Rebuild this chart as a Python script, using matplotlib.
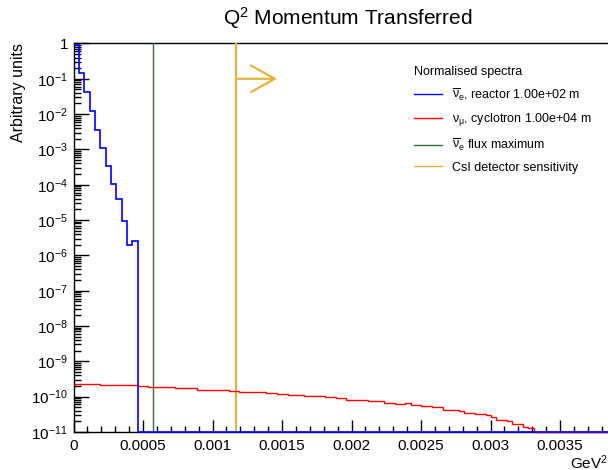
"""Q^2 spectra for reactor and cyclotron neutrinos, log-scale histogram plot."""
import matplotlib
matplotlib.use("Agg")
import matplotlib.pyplot as plt
from matplotlib.lines import Line2D
from matplotlib.ticker import FixedLocator, FuncFormatter, LogLocator, MultipleLocator
import numpy as np

plt.rcParams["font.family"] = ["Liberation Sans", "DejaVu Sans"]
# upright Greek letters in the legend, like the rest of the text
plt.rcParams["mathtext.fontset"] = "custom"
plt.rcParams["mathtext.rm"] = "Liberation Sans"
plt.rcParams["mathtext.it"] = "Liberation Sans"
plt.rcParams["mathtext.bf"] = "Liberation Sans:bold"

# histogram binning (GeV^2)
n_bins = 100
bin_width = 3.85e-5

# anti-nu_e reactor spectrum, first 12 bins (rest empty)
reactor = [0.9, 0.148, 0.0417, 0.0119, 3.66e-3, 1.11e-3, 3.34e-4, 1.06e-4,
           3.98e-5, 9.24e-6, 2.02e-6, 2.62e-6]

# nu_mu cyclotron spectrum, first 86 bins (rest empty)
cyclotron = [
    2.33e-10, 2.33e-10, 2.29e-10, 2.29e-10, 2.29e-10, 2.19e-10, 2.19e-10, 2.19e-10,
    2.19e-10, 2.09e-10, 2.09e-10, 2.09e-10, 1.96e-10, 1.96e-10, 1.83e-10, 1.92e-10,
    1.92e-10, 1.92e-10, 1.92e-10, 1.76e-10, 1.76e-10, 1.76e-10, 1.76e-10, 1.58e-10,
    1.58e-10, 1.51e-10, 1.51e-10, 1.51e-10, 1.51e-10, 1.45e-10, 1.45e-10, 1.39e-10,
    1.39e-10, 1.39e-10, 1.32e-10, 1.32e-10, 1.27e-10, 1.27e-10, 1.22e-10, 1.22e-10,
    1.12e-10, 1.12e-10, 1.12e-10, 1.07e-10, 1.07e-10, 1.02e-10, 1.02e-10, 9.55e-11,
    9.55e-11, 9.37e-11, 9.37e-11, 8.07e-11, 8.07e-11, 8.07e-11, 8.07e-11, 7.71e-11,
    7.71e-11, 7.71e-11, 6.76e-11, 6.76e-11, 6.21e-11, 6.21e-11, 6.46e-11, 5.82e-11,
    5.82e-11, 5.45e-11, 5.56e-11, 5.11e-11, 5.11e-11, 4.20e-11, 4.20e-11, 4.20e-11,
    3.93e-11, 3.52e-11, 3.52e-11, 3.30e-11, 3.30e-11, 3.03e-11, 2.71e-11, 2.13e-11,
    2.13e-11, 2.05e-11, 1.69e-11, 1.69e-11, 1.41e-11, 1.26e-11,
]

flux_max_q2 = 5.75e-4       # anti-nu_e flux maximum
csi_threshold_q2 = 1.169e-3  # CsI detector sensitivity
arrow_end_q2 = 1.464e-3
arrow_level = 0.1

y_min, y_max = 1e-11, 1.0
x_max = 0.003845

BLUE = "#0000ff"
RED = "#ff0000"
GREEN = "#356b3a"
GOLD = "#e2b43c"


def padded(values):
    out = np.zeros(n_bins)
    out[:len(values)] = values
    return out


edges = np.arange(n_bins + 1) * bin_width
# empty bins sit on the lower edge of the log axis
h_reactor = np.maximum(padded(reactor), y_min)
h_cyclotron = np.maximum(padded(cyclotron), y_min)

fig = plt.figure(figsize=(6.08, 4.70), dpi=100)
ax = fig.add_axes([0.1209, 0.0809, 0.8791, 0.8266])

# unclipped, above the spines, so the empty-bin segments on the bottom edge show
ax.stairs(h_cyclotron, edges, baseline=None, color=RED, lw=1, zorder=6, clip_on=False)
ax.stairs(h_reactor, edges, baseline=None, color=BLUE, lw=1.2, zorder=7, clip_on=False)
ax.axvline(flux_max_q2, color=GREEN, lw=1, zorder=5)
ax.axvline(csi_threshold_q2, color=GOLD, lw=1.6, zorder=5)
ax.annotate("", xy=(arrow_end_q2, arrow_level), xytext=(csi_threshold_q2, arrow_level),
            arrowprops=dict(arrowstyle="->,head_length=1.7,head_width=0.95",
                            color=GOLD, lw=1.6, shrinkA=0, shrinkB=0), zorder=5)

ax.set_yscale("log")
ax.set_xlim(0, x_max)
ax.set_ylim(y_min, y_max)

ax.xaxis.set_major_locator(MultipleLocator(0.0005))
ax.xaxis.set_minor_locator(MultipleLocator(0.0001))
ax.xaxis.set_major_formatter(FuncFormatter(lambda v, _: "0" if v == 0 else f"{v:g}"))
ax.yaxis.set_major_locator(FixedLocator([10.0 ** k for k in range(-11, 1)]))
ax.yaxis.set_minor_locator(LogLocator(base=10, subs=np.arange(2, 10), numticks=20))
ax.yaxis.set_major_formatter(FuncFormatter(
    lambda v, _: "1" if abs(v - 1) < 1e-9 else rf"$10^{{{int(round(np.log10(v)))}}}$"))

ax.tick_params(axis="both", which="both", direction="in", labelsize=11, width=1)
ax.tick_params(axis="x", which="major", length=8.6, pad=5)
ax.tick_params(axis="x", which="minor", length=4.3)
ax.tick_params(axis="y", which="major", length=10.8, pad=4)
ax.tick_params(axis="y", which="minor", length=5)
ax.spines["right"].set_visible(False)
for side in ("left", "top", "bottom"):
    ax.spines[side].set_linewidth(1)

ax.set_xlabel("GeV$^2$", loc="right", fontsize=11, labelpad=0)
ax.set_ylabel("Arbitrary units", loc="top", fontsize=11.5)
ax.yaxis.set_label_coords(-0.088, 1.0)

fig.text(0.572, 0.962, "Q$^2$ Momentum Transferred", ha="center", va="center", fontsize=15)

handles = [
    Line2D([], [], color=BLUE, lw=1),
    Line2D([], [], color=RED, lw=1),
    Line2D([], [], color=GREEN, lw=1),
    Line2D([], [], color=GOLD, lw=1),
]
labels = [
    r"$\overline{\nu}_{e}$, reactor 1.00e+02 m",
    r"$\nu_{\mu}$, cyclotron 1.00e+04 m",
    r"$\overline{\nu}_{e}$ flux maximum",
    "CsI detector sensitivity",
]
ax.legend(handles, labels, title="Normalised spectra", alignment="left",
          frameon=False, fontsize=9, title_fontsize=9, handlelength=2.2,
          handletextpad=0.8, labelspacing=0.68, borderpad=0,
          loc="upper left", bbox_to_anchor=(408 / 608, 1 - 60 / 470),
          bbox_transform=fig.transFigure)

fig.savefig("out.png", dpi=100)
plt.close(fig)
